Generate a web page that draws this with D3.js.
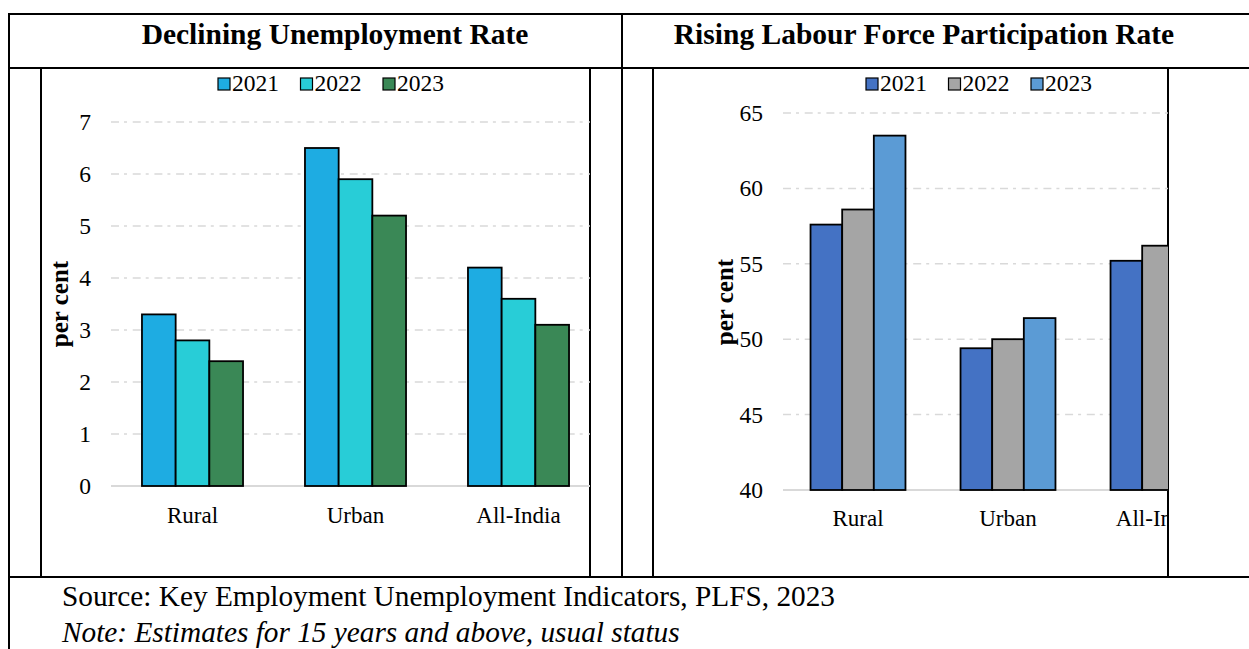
<!DOCTYPE html>
<html>
<head>
<meta charset="utf-8">
<script src="https://cdn.jsdelivr.net/npm/d3@7"></script>
<style>
  html, body { margin: 0; padding: 0; background: #fff; }
  svg { display: block; font-family: "Liberation Serif", "Times New Roman", serif; }
</style>
</head>
<body>
<svg id="fig" width="1249" height="649"></svg>
<script>
// Categories and series
const categories = ["Rural", "Urban", "All-India"];
const years = ["2021", "2022", "2023"];

// Unemployment rate (per cent)
const unemp2021 = [3.3, 6.5, 4.2];
const unemp2022 = [2.8, 5.9, 3.6];
const unemp2023 = [2.4, 5.2, 3.1];
const unempTicks = [0, 1, 2, 3, 4, 5, 6, 7];

// Labour force participation rate (per cent)
const lfpr2021 = [57.6, 49.4, 55.2];
const lfpr2022 = [58.6, 50.0, 56.2];
const lfpr2023 = [63.5, 51.4, 59.8];
const lfprTicks = [40, 45, 50, 55, 60, 65];

const unempColors = ["#1EACE2", "#28CDD7", "#3A8856"];
const lfprColors = ["#4472C4", "#A5A5A5", "#5B9BD5"];

const svg = d3.select("#fig");

// ---- Table frame ----
const frame = svg.append("g").attr("stroke", "#000").attr("stroke-width", 2);
const hLines = [[9, 1249, 14], [9, 1249, 68], [9, 1249, 577]];
hLines.forEach(([x1, x2, y]) => frame.append("line").attr("x1", x1).attr("x2", x2).attr("y1", y).attr("y2", y));
const vLines = [[9, 13, 649], [622, 13, 578], [41, 68, 578], [590, 68, 578], [653, 68, 578], [1168, 68, 578]];
vLines.forEach(([x, y1, y2]) => frame.append("line").attr("x1", x).attr("x2", x).attr("y1", y1).attr("y2", y2));

// ---- Titles ----
svg.append("text").attr("x", 335).attr("y", 44).attr("text-anchor", "middle")
  .attr("font-weight", "bold").attr("font-size", 29.5).text("Declining Unemployment Rate");
svg.append("text").attr("x", 924).attr("y", 44).attr("text-anchor", "middle")
  .attr("font-weight", "bold").attr("font-size", 29.5).text("Rising Labour Force Participation Rate");

// ---- Notes ----
svg.append("text").attr("x", 62).attr("y", 606).attr("font-size", 29.3)
  .text("Source: Key Employment Unemployment Indicators, PLFS, 2023");
svg.append("text").attr("x", 62).attr("y", 642).attr("font-size", 29.3).attr("font-style", "italic")
  .text("Note: Estimates for 15 years and above, usual status");

// ---- Grouped bar chart ----
function drawChart(cfg) {
  const clipId = cfg.id + "-clip";
  svg.append("clipPath").attr("id", clipId)
    .append("rect").attr("x", cfg.clip[0]).attr("y", 68).attr("width", cfg.clip[1] - cfg.clip[0]).attr("height", 509);

  const g = svg.append("g").attr("clip-path", `url(#${clipId})`);

  const y = d3.scaleLinear().domain(cfg.domain).range(cfg.yRange);
  const x0 = d3.scaleBand().domain(categories).range(cfg.xRange)
    .paddingInner(cfg.pad).paddingOuter(cfg.pad / 2);
  const x1 = d3.scaleBand().domain(years).range([0, x0.bandwidth()]).padding(0);

  // dash-dot gridlines
  g.append("g").selectAll("line").data(cfg.ticks.slice(1)).join("line")
    .attr("x1", cfg.xRange[0]).attr("x2", cfg.xRange[1])
    .attr("y1", d => y(d)).attr("y2", d => y(d))
    .attr("stroke", "#D9D9D9").attr("stroke-width", 1.5)
    .attr("stroke-dasharray", "8,5,3,5.7");

  // baseline
  g.append("line").attr("x1", cfg.xRange[0]).attr("x2", cfg.xRange[1])
    .attr("y1", y(cfg.domain[0])).attr("y2", y(cfg.domain[0]))
    .attr("stroke", "#D9D9D9").attr("stroke-width", 2);

  // bars
  const rows = categories.map((c, i) => ({ cat: c, vals: cfg.series.map(s => s[i]) }));
  g.append("g").selectAll("g").data(rows).join("g")
    .attr("transform", d => `translate(${x0(d.cat)},0)`)
    .selectAll("rect").data(d => d.vals.map((v, j) => ({ year: years[j], v, j }))).join("rect")
    .attr("x", d => x1(d.year)).attr("width", x1.bandwidth())
    .attr("y", d => y(d.v)).attr("height", d => y(cfg.domain[0]) - y(d.v))
    .attr("fill", d => cfg.colors[d.j]).attr("stroke", "#000").attr("stroke-width", 1.8);

  // category labels
  g.append("g").selectAll("text").data(categories).join("text")
    .attr("x", d => x0(d) + x0.bandwidth() / 2).attr("y", cfg.catY)
    .attr("text-anchor", "middle").attr("font-size", 23).text(d => d);

  // value axis labels
  svg.append("g").selectAll("text").data(cfg.ticks).join("text")
    .attr("x", cfg.tickX).attr("y", d => y(d)).attr("dy", "0.34em")
    .attr("text-anchor", "end").attr("font-size", 23.5).text(d => d);

  // axis title
  svg.append("text").attr("transform", `translate(${cfg.titleX},${cfg.titleY}) rotate(-90)`)
    .attr("text-anchor", "middle").attr("font-weight", "bold").attr("font-size", 25).text("per cent");

  // legend
  const leg = svg.append("g").attr("transform", `translate(${cfg.legendX},${cfg.legendY})`);
  const items = leg.selectAll("g").data(years).join("g")
    .attr("transform", (d, i) => `translate(${i * 82.5},0)`);
  items.append("rect").attr("x", 0).attr("y", -13).attr("width", 12).attr("height", 12)
    .attr("fill", (d, i) => cfg.colors[i]).attr("stroke", "#000").attr("stroke-width", 1.2);
  items.append("text").attr("x", 14).attr("y", 0).attr("font-size", 23.5).text(d => d);
}

drawChart({
  id: "unemp", series: [unemp2021, unemp2022, unemp2023], colors: unempColors,
  domain: [0, 7], yRange: [486, 122], ticks: unempTicks,
  xRange: [111, 600], pad: 0.38, clip: [41, 590],
  catY: 523, tickX: 91, titleX: 68, titleY: 304, legendX: 218, legendY: 91
});

drawChart({
  id: "lfpr", series: [lfpr2021, lfpr2022, lfpr2023], colors: lfprColors,
  domain: [40, 65], yRange: [490, 113], ticks: lfprTicks,
  xRange: [783, 1233], pad: 0.367, clip: [653, 1168],
  catY: 526, tickX: 763, titleX: 733, titleY: 302, legendX: 866, legendY: 91
});
</script>
</body>
</html>
